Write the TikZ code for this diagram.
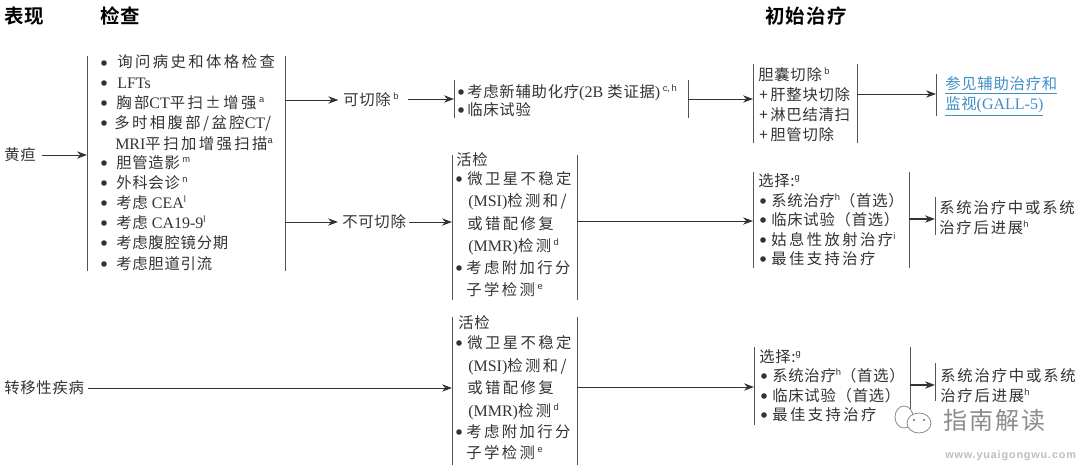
\documentclass[tikz,border=0pt]{standalone}
\usepackage{fontspec}
\usetikzlibrary{arrows.meta}
\setmainfont{Noto Sans CJK SC}
\newfontfamily\cjkT[LetterSpace=5]{Noto Sans CJK SC}
\newfontfamily\cjkM[LetterSpace=12]{Noto Sans CJK SC}
\newfontfamily\cjkL[LetterSpace=16]{Noto Sans CJK SC}
\newfontfamily\cjkH[LetterSpace=6]{Noto Sans CJK SC Bold}
\newfontfamily\cjkW[LetterSpace=8]{Noto Sans CJK SC}
\newfontfamily\latin{Liberation Serif}
\newfontfamily\supf{Liberation Sans}
\newfontfamily\wwwf[LetterSpace=8]{Liberation Sans Bold}
\newcommand\lat[1]{{\latin\fontsize{12}{12}\selectfont #1}}
\newcommand\su[1]{\raisebox{4.5pt}{\supf\fontsize{7}{7}\selectfont #1}}
\definecolor{ink}{HTML}{333333}
\definecolor{rail}{HTML}{555555}
\definecolor{linkblue}{HTML}{3F8FC4}
\definecolor{wm}{HTML}{8C8C8C}
\definecolor{wwwc}{HTML}{BEBEBE}
\tikzset{
  txt/.style={anchor=west,inner sep=0pt,text=ink,font=\fontsize{11.5}{13}\selectfont,text height=10.4pt,text depth=1.7pt},
  head/.style={anchor=west,inner sep=0pt,text=black,text height=13pt,text depth=2pt,font=\cjkH\fontsize{14.6}{16}\selectfont},
  dotn/.style={circle,fill=ink,inner sep=0pt,minimum size=4.2pt},
  brk/.style={anchor=north west,inner sep=0pt,outer sep=0pt},
  railn/.style={draw=rail,line width=0.75pt},
  arr/.style={draw=ink,line width=0.75pt,-{Stealth[length=7.5pt,width=5.5pt]}},
}
\newcommand\TT[4]{\node[txt] (#1) at (#2,#3) {\cjkT #4};}
\newcommand\TM[4]{\node[txt] (#1) at (#2,#3) {\cjkM #4};}
\newcommand\TL[4]{\node[txt] (#1) at (#2,#3) {\cjkL #4};}
\newcommand\BL[3]{\node[dotn] (#1) at (#2,#3) {};}
\newcommand\BR[5]{%
  \pgfmathsetlengthmacro\bw{(#3-#2)*0.75pt}\pgfmathsetlengthmacro\bh{(#5-#4)*0.75pt}%
  \node[brk,minimum width=\bw,minimum height=\bh] (#1) at (#2,#4) {};%
  \draw[railn] (#1.north west) -- (#1.south west);%
  \draw[railn] (#1.north east) -- (#1.south east);}
\newcommand\BO[4]{%
  \pgfmathsetlengthmacro\bh{(#4-#3)*0.75pt}%
  \node[brk,minimum width=1pt,minimum height=\bh] (#1) at (#2,#3) {};%
  \draw[railn] (#1.north west) -- (#1.south west);}
\begin{document}
\begin{tikzpicture}[x=0.75pt,y=-0.75pt]
\useasboundingbox[fill=white] (0,0) rectangle (1080,468);
% headers
\node[head] (h1) at (4,16) {表现};
\node[head] (h2) at (100,16) {检查};
\node[head] (h3) at (765,16) {初始治疗};
% brackets
\BR{b1}{87}{285}{56}{271}
\BR{b2}{454}{688}{80}{118}
\BR{b3}{753}{857}{64}{143}
\BO{b4}{936}{74}{116}
\BR{b5}{452}{577}{155}{300}
\BR{b6}{753}{909}{172}{268}
\BO{b7}{935}{197}{235}
\BR{b8}{452}{577}{317}{465}
\BR{b9}{754}{910}{347}{425}
\BO{b10}{935}{363}{401}
% left labels
\TT{jaund}{4}{155}{黄疸}
\TT{meta}{4}{388}{转移性疾病}
% workup
\BL{d1}{104}{63}\TL{w1}{117}{62}{询问病史和体格检查}
\BL{d2}{104}{83}\TT{w2}{117}{83}{\lat{LFTs}}
\BL{d3}{104}{103}\TL{w3}{116}{103}{胸部\lat{CT}平扫\,±\,增强\,\su{a}}
\BL{d4}{104}{123}\TL{w4}{114}{123}{多时相腹部/盆腔\lat{CT}/}
\TL{w5}{115}{144}{\lat{MRI}平扫加增强扫描\su{a}}
\BL{d6}{104}{163}\TT{w6}{116}{163}{胆管造影\,\su{m}}
\BL{d7}{104}{183}\TT{w7}{116}{183}{外科会诊\,\su{n}}
\BL{d8}{104}{203}\TT{w8}{116}{203}{考虑 \lat{CEA}\su{l}}
\BL{d9}{104}{223}\TT{w9}{116}{223}{考虑 \lat{CA19-9}\su{l}}
\BL{d10}{104}{243}\TT{w10}{116}{243}{考虑腹腔镜分期}
\BL{d11}{104}{264}\TT{w11}{116}{264}{考虑胆道引流}
% resectable labels
\TT{res}{343}{100}{可切除\,\su{b}}
\TT{unres}{342}{222}{不可切除}
% box 2
\BL{e1}{461}{92}\TT{x1}{467}{92}{考虑新辅助化疗\lat{(2B} 类证据\lat{)}\,\su{c,\,h}}
\BL{e2}{461}{110}\TT{x2}{467}{110}{临床试验}
% box 3
\TT{y1}{758}{75}{胆囊切除\,\su{b}}
\TT{y2}{759}{95}{+\,肝整块切除}
\TT{y3}{759}{115}{+\,淋巴结清扫}
\TT{y4}{759}{135}{+\,胆管切除}
% box 4
\node[txt,text=linkblue] (z1) at (945,84) {\cjkT\underline{参见辅助治疗和}};
\node[txt,text=linkblue] (z2) at (945,104) {\cjkT\underline{监视\lat{(GALL-5)}}};
% biopsy 1
\TT{p1}{456}{160}{活检}
\BL{f1}{459}{179}\TL{p2}{467}{179}{微卫星不稳定}
\TL{p3}{468}{201}{\lat{(MSI)}检测和/}
\TL{p4}{467}{224}{或错配修复}
\TL{p5}{468}{246}{\lat{(MMR)}检测\,\su{d}}
\BL{f2}{459}{268}\TL{p6}{466}{268}{考虑附加行分}
\TL{p7}{466}{290}{子学检测\,\su{e}}
% options 1
\TT{q1}{758}{181}{选择:\su{g}}
\BL{g1}{763}{201}\TT{q2}{771}{201}{系统治疗\su{h}（首选）}
\BL{g2}{763}{220}\TT{q3}{771}{220}{临床试验（首选）}
\BL{g3}{763}{240}\TL{q4}{771}{240}{姑息性放射治疗\su{i}}
\BL{g4}{763}{259}\TL{q5}{771}{259}{最佳支持治疗}
\TM{r1}{939}{208}{系统治疗中或系统}
\TM{r2}{939}{228}{治疗后进展\su{h}}
% biopsy 2
\TT{s1}{458}{323}{活检}
\BL{i1}{459}{343}\TL{s2}{467}{343}{微卫星不稳定}
\TL{s3}{468}{366}{\lat{(MSI)}检测和/}
\TL{s4}{467}{388}{或错配修复}
\TL{s5}{468}{411}{\lat{(MMR)}检测\,\su{d}}
\BL{i2}{459}{432}\TL{s6}{466}{432}{考虑附加行分}
\TL{s7}{466}{453}{子学检测\,\su{e}}
% options 2
\TT{u1}{759}{357}{选择:\su{g}}
\BL{j1}{764}{376}\TT{u2}{772}{376}{系统治疗\su{h}（首选）}
\BL{j2}{764}{396}\TT{u3}{772}{396}{临床试验（首选）}
\BL{j3}{764}{415}\TL{u4}{772}{415}{最佳支持治疗}
\TM{v1}{940}{376}{系统治疗中或系统}
\TM{v2}{940}{396}{治疗后进展\su{h}}
% connector levels
\coordinate (l1) at (0,155);
\coordinate (l2) at (0,99);
\coordinate (l3) at (0,94);
\coordinate (l4) at (0,221);
\coordinate (l5) at (0,219);
\coordinate (l6) at (0,387);
\coordinate (l7) at (0,385);
% connectors
\draw[arr] (jaund.east) ++(6,0) -- (b1.west |- l1);
\draw[arr] (b1.east |- res) -- ([xshift=-3.5pt]res.west);
\draw[arr] (b1.east |- unres) -- ([xshift=-3pt]unres.west);
\draw[arr] (res.east |- b2.east) ++(9,0) -- (b2.west);
\draw[arr] (unres.east) ++(3,0) -- (b5.west |- unres);
\draw[arr] (b2.east |- l2) -- (b3.west |- l2);
\draw[arr] (b3.east |- l3) -- (b4.west |- l3);
\draw[arr] (b5.east |- l4) -- (b6.west |- l4);
\draw[arr,line width=1.1pt] (b6.east |- l5) -- (b7.west |- l5);
\draw[arr] (meta.east) ++(4,0) -- (b8.west |- meta);
\draw[arr] (b8.east |- l6) -- (b9.west |- l6);
\draw[arr,line width=1.1pt] (b9.east |- l7) -- (b10.west |- l7);
% watermark
\draw[wm,line width=0.6pt,fill=white] (904,417) ellipse (9 and 11);
\draw[wm,line width=0.6pt,fill=white] (919,423) ellipse (12 and 10);
\node[dotn,fill=wm,minimum size=2pt] (k1) at (914,420) {};
\node[dotn,fill=wm,minimum size=2pt] (k2) at (924,420) {};
\node[anchor=west,inner sep=0pt,text=wm,font=\cjkW\fontsize{18}{20}\selectfont] (wmk) at (943,420) {指南解读};
\node[anchor=west,inner sep=0pt,text=wwwc,font=\wwwf\fontsize{8.1}{10}\selectfont] (www) at (945,456) {www.yuaigongwu.com};
\end{tikzpicture}
\end{document}
